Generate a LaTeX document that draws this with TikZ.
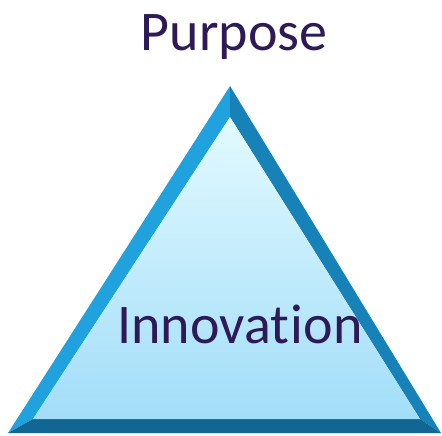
\documentclass[tikz,border=0pt]{standalone}
\usepackage{fontspec}
\setmainfont{Carlito}
\usepackage{tikz}
\usetikzlibrary{positioning}
\definecolor{labelpurple}{RGB}{46,26,87}
\definecolor{edgelight}{RGB}{32,162,222}
\definecolor{edgemid}{RGB}{22,130,184}
\definecolor{edgedark}{RGB}{17,102,148}
\definecolor{facetop}{RGB}{226,250,255}
\definecolor{facebottom}{RGB}{162,221,249}

\begin{document}
\begin{tikzpicture}[
    x=0.5pt, y=-0.5pt,
    word/.style={font=\fontsize{28}{30}\selectfont, text=labelpurple, inner sep=0pt, anchor=base},
    bevel/.style={fill=#1, draw=none}
]
\useasboundingbox (0,0) rectangle (442,435);

% outer corners and inner (face) corners
\coordinate (top) at (230,86);
\coordinate (bl) at (8,433);
\coordinate (br) at (441,433);
\coordinate (itop) at (230,117);
\coordinate (ibl) at (33,419);
\coordinate (ibr) at (420,419);

% bevelled rim
\fill[bevel=edgelight] (top) -- (bl) -- (ibl) -- (itop) -- cycle;
\fill[bevel=edgemid] (top) -- (br) -- (ibr) -- (itop) -- cycle;
\fill[bevel=edgedark] (bl) -- (br) -- (ibr) -- (ibl) -- cycle;

% face
\shade[top color=facetop, bottom color=facebottom] (itop) -- (ibl) -- (ibr) -- cycle;

% labels (small kern keeps t and i apart)
\node[word] (purpose) at (234,50) {Purpose};
\node[word] (innovation) at (240,343) {Innovat\kern0.8pt ion};
\end{tikzpicture}
\end{document}
